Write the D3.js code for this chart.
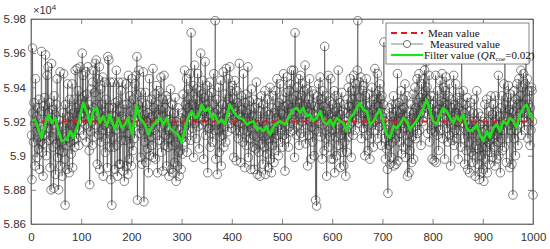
<!DOCTYPE html>
<html>
<head>
<meta charset="utf-8">
<script src="https://cdn.jsdelivr.net/npm/d3@7"></script>
<style>
	body{margin:0;background:#fff;}
	#chart{width:550px;height:249px;}
	text{font-family:'Liberation Sans',Arial,sans-serif;}
</style>
</head>
<body>
<div id="chart"></div>
<script>

const xTicks = [0,100,200,300,400,500,600,700,800,900,1000];
const yTicks = [58600,58800,59000,59200,59400,59600,59800];
const meanValue = 59200;

// measured samples 1..1000
const measured = [
59120,58860,59630,59250,59080,59310,59190,58940,59450,59140,59230,58990,59280,59110,59040,59330,58920,59170,59080,59260,
59610,59020,59150,58880,59290,59070,59340,59120,59590,59210,59000,59470,59160,59520,59250,59090,59310,58930,59200,58800,
59540,59110,59270,59050,58810,59350,59180,59240,58890,59300,59070,59450,58990,59120,58800,59210,59030,59490,58940,59080,
59170,58880,59250,59020,59480,59110,58980,58710,59300,59060,59190,58920,59420,59100,59230,58900,59330,59080,59270,59010,
59180,59420,58930,59250,59090,59330,59050,59500,59160,59280,59100,59510,59200,59380,59060,59300,59150,59520,59240,59330,
59200,59600,59250,59470,59120,59350,59230,59180,59490,59080,59360,59260,59520,59170,59300,59030,58830,59250,59140,59390,
59200,59060,59430,59500,59280,59110,59370,59540,59180,59560,59300,58950,59450,59250,59120,59520,58920,59210,59390,59080,
59300,59150,59460,58880,59260,59180,59430,59020,59330,59100,59230,58930,59580,59160,59560,59280,59050,59430,58860,59200,
58710,59280,59110,59430,59050,59230,58920,59310,59150,59500,59060,58880,59320,59180,59430,58950,59260,58950,59380,59090,
59230,59430,58910,59160,59300,58850,59210,59090,59420,58940,59300,59130,58890,59470,59180,58980,59350,59070,59260,58940,
59450,59180,59030,59330,59250,59100,59420,59280,59470,59360,59580,58740,59300,59200,59500,59130,59250,58990,59370,59190,
58950,59310,59150,59490,58730,59240,59080,59370,58960,59200,59300,59040,59250,58900,59140,59450,59000,59220,59110,59330,
59060,59230,59510,58990,59280,59150,59360,58980,59200,59410,59120,58900,59300,59240,59380,59090,59270,59170,59460,59020,
59230,59330,58910,59180,59470,59060,59280,59120,59350,58940,59210,59330,59050,59150,58880,59260,59100,59390,58920,59200,
59060,59300,58900,59170,59250,58960,59340,59080,58850,59200,59110,58940,59280,59020,58880,59150,59030,59220,58920,59100,
59250,59010,59360,59130,59210,59500,59080,59300,59180,59450,59020,59280,59390,59150,59330,59210,59480,59090,59720,59250,
59300,59160,59410,58990,59230,59530,59190,59330,59100,59390,59250,59480,59170,59300,59040,59380,59220,59600,59280,59360,
59180,59440,59260,58980,59340,59200,59550,59120,59300,59230,59410,58900,59350,59160,59270,59430,59050,59240,59130,59370,
59200,59080,59300,59480,59150,59250,59790,58980,59180,59330,58890,59270,59150,59400,59020,59230,59110,59440,58940,59200,
59300,59120,59490,59050,59250,59170,59360,59080,59510,59220,59300,59140,59450,59330,59250,59520,59190,59380,59290,59160,
59410,59210,59330,58990,59280,59440,59150,59260,58970,59380,59200,59310,59100,59290,59540,59140,59230,58960,59350,59190,
59270,59080,59480,59150,59310,58930,59220,59360,59060,59250,59140,59520,58990,59200,59320,59100,59270,58920,59390,59160,
59230,59050,59330,59120,58920,59280,59180,59040,59430,59110,58890,59230,59310,59020,59200,58880,59260,59130,59350,59070,
59200,58950,59300,59110,59050,59380,58890,59180,59260,59010,59330,59120,58930,59240,59100,59400,58980,59170,58900,59280,
59060,59350,59150,58960,59250,59100,59380,59030,59220,59450,59120,59290,59000,59310,59180,59420,59080,59250,59150,59330,
59050,59240,59480,59120,59290,58910,59200,59370,59100,59460,59230,59300,59050,59380,59170,59420,59280,59140,59500,59260,
59330,59150,59500,59240,58990,59720,59210,59350,59120,59400,59280,59180,59450,59060,59310,59240,59470,59130,59350,59200,
59420,59290,59110,59380,59240,59530,59070,59300,59180,59390,58940,59260,59330,59120,59450,59200,58980,59300,59170,59380,
59080,59250,59360,59000,59290,59150,58740,59230,58705,59350,59280,59140,59420,59200,59300,59460,59110,59330,59250,58980,
59380,59180,59290,59030,59640,59220,59100,59350,58880,59260,59170,59470,59050,59240,59320,59110,59450,58980,59230,59150,
59300,58980,59210,59380,58900,59260,59110,59350,59000,59280,59200,59500,59060,59180,59310,58930,59240,59120,59370,59020,
59260,59150,58940,59300,59080,59200,58880,59150,59020,59330,59250,59400,59110,59290,59180,59450,59240,58990,59380,59200,
59330,59120,59470,59260,59380,59150,59420,59300,59210,59500,59790,59280,59190,59430,59340,59220,59460,59100,59300,59250,
59380,59160,59410,59250,59000,59350,59200,59450,59120,59290,59030,59250,59180,59360,58980,59220,59300,59100,59400,59180,
59270,59050,59330,59200,59510,59150,59300,59360,59210,59480,59100,59290,59380,59170,59420,59260,59330,59060,59350,59230,
59150,59300,59665,59100,59200,58980,59250,59040,59150,58920,58780,59180,59060,59280,58950,59120,59230,58990,59300,59080,
59200,59350,58940,59230,59100,59300,58950,59260,59150,59480,58970,59200,59310,59080,59250,59130,59380,59010,59270,59190,
59330,59050,59280,59160,59420,58990,59230,59120,59350,58880,59200,59080,58900,59260,59030,59180,59300,58960,59220,59110,
59360,58980,59250,59170,59400,59100,59280,59220,59450,59130,59310,59200,59480,59150,59340,59250,59060,59420,59300,59360,
59200,59450,59300,59500,59250,59380,59550,59280,59400,59130,59330,59240,59470,59080,59280,59350,59150,59240,58980,59300,
59180,59350,58970,59260,59140,59470,58960,59230,59120,59380,59270,59030,59300,59200,59440,59150,59320,59250,59480,59100,
59310,59400,59220,58980,59380,59260,59460,59160,59300,59080,59350,59200,59420,59120,59250,58940,59330,59180,59280,59090,
59230,59470,59060,59300,59150,59420,59250,59100,59340,59200,58980,59280,59150,59370,59220,59050,59310,59600,59190,59260,
59380,59100,59250,58950,59300,59150,59030,59200,59340,58920,59180,59080,59260,58900,59150,59310,59020,59200,58960,59130,
59250,59000,59330,59150,58880,59200,59060,59380,59120,58950,59250,59040,58860,59180,59000,59230,58900,59140,59050,58920,
59200,58850,59100,59300,58980,59150,59050,59330,58900,59200,59080,59260,58950,59120,59020,59350,59150,58990,59240,59100,
59300,59050,59200,58940,59350,59120,59260,58980,59180,59080,59470,59000,59230,59150,58900,59280,59100,59350,59030,59200,
59150,59420,59050,59580,59230,59300,58960,59200,59340,59100,59410,59180,59270,58930,59360,59150,59250,58950,59300,58770,
59260,59380,59100,59200,59000,59330,59150,59420,59230,59060,59300,59450,59180,59350,59250,59500,59120,59300,59400,59220,
59480,59300,59150,59420,59250,59560,59330,59200,59450,59100,59300,59240,59380,59060,59280,59150,59400,59380,59200,58770
];

// filter output
const filterIdx = [
1,8,15,21,28,35,41,48,54,61,71,78,84,94,104,111,118,124,131,137,144,151,157,167,174,181,187,194,201,207,210,217,227,234,240,250,257,264,270,277,284,293,300,307,313,320,327,333,340,347,353,360,366,373,380,386,396,403,410,416,423,430,436,443,450,456,463,469,476,486,496,
506,513,519,529,536,542,549,556,562,569,576,582,589,596,602,609,616,622,629,635,642,649,655,662,669,675,682,689,695,702,708,715,722,728,735,742,748,755,762,768,775,782,788,795,801,808,815,821,828,835,841,848,855,861,868,874,881,888,894,901,908,914,921,928,934,941,948,954,961,967,974,981,987,994,1000
];
const filterVal = [
59202,59211,59153,59104,59182,59241,59192,59221,59153,59085,59095,59143,59104,59182,59309,59260,59182,59260,59280,59192,59231,59173,59241,59153,59221,59163,59182,59221,59124,59221,59299,59221,59182,59124,59163,59202,59221,59182,59221,59163,59143,59124,59075,59163,59221,59260,59221,59231,59299,59260,59280,59221,59241,59192,59211,59182,59299,59260,59231,59221,59211,59182,59192,59202,59153,59163,59143,59173,59124,59182,59202,
59182,59221,59260,59280,59251,59280,59231,59241,59202,59221,59260,59202,59182,59211,59173,59221,59202,59192,59143,59221,59241,59280,59309,59270,59260,59182,59202,59241,59270,59192,59124,59104,59173,59163,59182,59221,59202,59153,59182,59202,59241,59280,59328,59260,59202,59182,59241,59280,59260,59221,59192,59231,59202,59241,59163,59143,59153,59182,59124,59085,59143,59104,59163,59182,59143,59202,59182,59221,59202,59163,59241,59280,59299,59241,59210
];

const W = 550, H = 249;
const margin = {l:31, r:17, t:19, b:25};

const svg = d3.select('#chart')
	.append('svg')
	.attr('width', W)
	.attr('height', H);

const x = d3.scaleLinear().domain([0,1000]).range([margin.l, W - margin.r]);
const y = d3.scaleLinear().domain([58600,59800]).range([H - margin.b, margin.t]);

const axisColor = '#666';
const textColor = '#333';
const fmt = d => String(+(d/1e4).toFixed(2));

// frame
svg.append('rect')
	.attr('x', x(0)).attr('y', y(59800))
	.attr('width', x(1000)-x(0)).attr('height', y(58600)-y(59800))
	.attr('fill','none').attr('stroke', axisColor).attr('stroke-width',0.8);

const plot = svg.append('g').attr('class','plot');

const pts = measured.map((v,i) => ({i:i+1, v:v}));

plot.append('path')
	.datum(pts)
	.attr('fill','none')
	.attr('stroke','#222')
	.attr('stroke-width',0.5)
	.attr('d', d3.line().x(d => x(d.i)).y(d => y(d.v)));

plot.selectAll('.pt')
	.data(pts)
	.enter()
	.append('circle')
	.attr('class','pt')
	.attr('cx', d => x(d.i))
	.attr('cy', d => y(d.v))
	.attr('r', 4.3)
	.attr('fill','none')
	.attr('stroke','#333')
	.attr('stroke-width',0.6);

plot.append('line')
	.attr('x1', x(1)).attr('x2', x(1000))
	.attr('y1', y(meanValue)).attr('y2', y(meanValue))
	.attr('stroke','#e8141c')
	.attr('stroke-width',1.8)
	.attr('stroke-dasharray','6,4');

const fPts = filterIdx.map((k,i) => ({i:k, v:filterVal[i]}));
plot.append('path')
	.datum(fPts)
	.attr('fill','none')
	.attr('stroke','#22e01c')
	.attr('stroke-width',2.6)
	.attr('stroke-linejoin','round')
	.attr('d', d3.line().x(d => x(d.i)).y(d => y(d.v)));

// axes
const gx = svg.append('g')
	.attr('transform', `translate(0,${y(58600)})`)
	.call(d3.axisBottom(x).tickValues(xTicks).tickSizeInner(-5).tickSizeOuter(0).tickPadding(9).tickFormat(d3.format('d')));
const gxTop = svg.append('g')
	.attr('transform', `translate(0,${y(59800)})`)
	.call(d3.axisTop(x).tickValues(xTicks).tickSizeInner(-5).tickSizeOuter(0).tickFormat(''));
const gy = svg.append('g')
	.attr('transform', `translate(${x(0)},0)`)
	.call(d3.axisLeft(y).tickValues(yTicks).tickSizeInner(-5).tickSizeOuter(0).tickPadding(5).tickFormat(fmt));
const gyR = svg.append('g')
	.attr('transform', `translate(${x(1000)},0)`)
	.call(d3.axisRight(y).tickValues(yTicks).tickSizeInner(-5).tickSizeOuter(0).tickFormat(''));

[gx,gxTop,gy,gyR].forEach(g => {
	g.select('.domain').attr('stroke', axisColor).attr('stroke-width',0.8);
	g.selectAll('.tick line').attr('stroke', axisColor).attr('stroke-width',0.8);
	g.selectAll('.tick text').attr('fill', textColor).style('font-size','11.5px')
		.style('font-family',"'Liberation Sans',Arial,sans-serif");
});

// exponent label
const ex = svg.append('text')
	.attr('x', x(0) + 2).attr('y', y(59800) - 5)
	.attr('fill', textColor).style('font-size','11px');
ex.append('tspan').text('\u00d710');
ex.append('tspan').attr('dy',-4).style('font-size','8px').text('4');

// legend
const lg = svg.append('g').attr('transform','translate(386,23)');
lg.append('rect')
	.attr('width',143).attr('height',41)
	.attr('fill','#fff').attr('stroke',axisColor).attr('stroke-width',0.8);

const serif = "'Liberation Serif','Times New Roman',serif";

lg.append('line').attr('x1',5).attr('x2',37).attr('y1',10).attr('y2',10)
	.attr('stroke','#e8141c').attr('stroke-width',2).attr('stroke-dasharray','6,4');
lg.append('text').attr('x',42).attr('y',14).text('Mean value')
	.style('font-family',serif).style('font-size','11px').attr('fill','#111');

lg.append('line').attr('x1',5).attr('x2',37).attr('y1',21).attr('y2',21)
	.attr('stroke','#333').attr('stroke-width',0.6);
lg.append('circle').attr('cx',21).attr('cy',21).attr('r',3.6)
	.attr('fill','#fff').attr('stroke','#333').attr('stroke-width',0.7);
lg.append('text').attr('x',44).attr('y',25).text('Measured value')
	.style('font-family',serif).style('font-size','11px').attr('fill','#111');

lg.append('line').attr('x1',5).attr('x2',37).attr('y1',32).attr('y2',32)
	.attr('stroke','#22e01c').attr('stroke-width',2.2);
const ft = lg.append('text').attr('x',38).attr('y',36)
	.style('font-family',serif).style('font-size','11px').attr('fill','#111');
ft.append('tspan').text('Filter value (');
ft.append('tspan').style('font-style','italic').text('QR');
ft.append('tspan').attr('dy',2).style('font-size','7px').text('coe');
ft.append('tspan').attr('dy',-2).text('=0.02)');

</script>
</body>
</html>
